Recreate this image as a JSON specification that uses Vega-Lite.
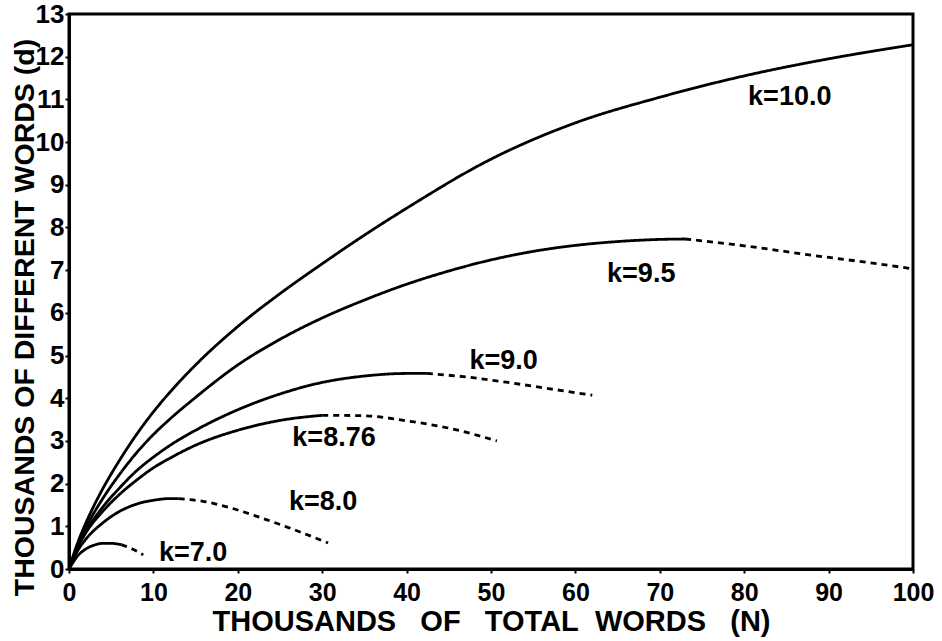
{
  "$schema": "https://vega.github.io/schema/vega-lite/v6.json",
  "width": 844,
  "height": 555,
  "autosize": {"type": "none"},
  "padding": {"left": 69, "top": 14, "right": 29, "bottom": 72},
  "background": "white",
  "config": {
    "view": {"stroke": "black", "strokeWidth": 3},
    "font": "Liberation Sans"
  },
  "datasets": {
    "curves": [
      {"k": "10.0", "seg": "solid", "N": 0, "d": 0},
      {"k": "10.0", "seg": "solid", "N": 1, "d": 0.6},
      {"k": "10.0", "seg": "solid", "N": 2, "d": 1.08},
      {"k": "10.0", "seg": "solid", "N": 3, "d": 1.5},
      {"k": "10.0", "seg": "solid", "N": 4, "d": 1.88},
      {"k": "10.0", "seg": "solid", "N": 6, "d": 2.55},
      {"k": "10.0", "seg": "solid", "N": 8, "d": 3.15},
      {"k": "10.0", "seg": "solid", "N": 10, "d": 3.68},
      {"k": "10.0", "seg": "solid", "N": 12, "d": 4.15},
      {"k": "10.0", "seg": "solid", "N": 15, "d": 4.78},
      {"k": "10.0", "seg": "solid", "N": 20, "d": 5.68},
      {"k": "10.0", "seg": "solid", "N": 25, "d": 6.45},
      {"k": "10.0", "seg": "solid", "N": 30, "d": 7.15},
      {"k": "10.0", "seg": "solid", "N": 35, "d": 7.82},
      {"k": "10.0", "seg": "solid", "N": 40, "d": 8.45},
      {"k": "10.0", "seg": "solid", "N": 50, "d": 9.6},
      {"k": "10.0", "seg": "solid", "N": 60, "d": 10.45},
      {"k": "10.0", "seg": "solid", "N": 70, "d": 11.05},
      {"k": "10.0", "seg": "solid", "N": 80, "d": 11.55},
      {"k": "10.0", "seg": "solid", "N": 90, "d": 11.95},
      {"k": "10.0", "seg": "solid", "N": 100, "d": 12.28},

      {"k": "9.5", "seg": "solid", "N": 0, "d": 0},
      {"k": "9.5", "seg": "solid", "N": 1, "d": 0.55},
      {"k": "9.5", "seg": "solid", "N": 2, "d": 0.97},
      {"k": "9.5", "seg": "solid", "N": 4, "d": 1.65},
      {"k": "9.5", "seg": "solid", "N": 6, "d": 2.22},
      {"k": "9.5", "seg": "solid", "N": 8, "d": 2.72},
      {"k": "9.5", "seg": "solid", "N": 10, "d": 3.15},
      {"k": "9.5", "seg": "solid", "N": 12, "d": 3.52},
      {"k": "9.5", "seg": "solid", "N": 15, "d": 4.02},
      {"k": "9.5", "seg": "solid", "N": 20, "d": 4.78},
      {"k": "9.5", "seg": "solid", "N": 25, "d": 5.38},
      {"k": "9.5", "seg": "solid", "N": 30, "d": 5.88},
      {"k": "9.5", "seg": "solid", "N": 35, "d": 6.3},
      {"k": "9.5", "seg": "solid", "N": 40, "d": 6.67},
      {"k": "9.5", "seg": "solid", "N": 45, "d": 6.98},
      {"k": "9.5", "seg": "solid", "N": 50, "d": 7.24},
      {"k": "9.5", "seg": "solid", "N": 55, "d": 7.44},
      {"k": "9.5", "seg": "solid", "N": 60, "d": 7.58},
      {"k": "9.5", "seg": "solid", "N": 65, "d": 7.67},
      {"k": "9.5", "seg": "solid", "N": 70, "d": 7.72},
      {"k": "9.5", "seg": "solid", "N": 73, "d": 7.73},
      {"k": "9.5", "seg": "dashed", "N": 73, "d": 7.73},
      {"k": "9.5", "seg": "dashed", "N": 80, "d": 7.57},
      {"k": "9.5", "seg": "dashed", "N": 88, "d": 7.35},
      {"k": "9.5", "seg": "dashed", "N": 95, "d": 7.17},
      {"k": "9.5", "seg": "dashed", "N": 100, "d": 7.03},

      {"k": "9.0", "seg": "solid", "N": 0, "d": 0},
      {"k": "9.0", "seg": "solid", "N": 1, "d": 0.5},
      {"k": "9.0", "seg": "solid", "N": 2, "d": 0.88},
      {"k": "9.0", "seg": "solid", "N": 4, "d": 1.45},
      {"k": "9.0", "seg": "solid", "N": 6, "d": 1.9},
      {"k": "9.0", "seg": "solid", "N": 8, "d": 2.3},
      {"k": "9.0", "seg": "solid", "N": 10, "d": 2.62},
      {"k": "9.0", "seg": "solid", "N": 12, "d": 2.9},
      {"k": "9.0", "seg": "solid", "N": 15, "d": 3.25},
      {"k": "9.0", "seg": "solid", "N": 20, "d": 3.73},
      {"k": "9.0", "seg": "solid", "N": 25, "d": 4.1},
      {"k": "9.0", "seg": "solid", "N": 30, "d": 4.37},
      {"k": "9.0", "seg": "solid", "N": 35, "d": 4.52},
      {"k": "9.0", "seg": "solid", "N": 40, "d": 4.58},
      {"k": "9.0", "seg": "solid", "N": 42.4, "d": 4.58},
      {"k": "9.0", "seg": "dashed", "N": 42.4, "d": 4.58},
      {"k": "9.0", "seg": "dashed", "N": 47, "d": 4.5},
      {"k": "9.0", "seg": "dashed", "N": 52, "d": 4.37},
      {"k": "9.0", "seg": "dashed", "N": 57, "d": 4.22},
      {"k": "9.0", "seg": "dashed", "N": 62, "d": 4.07},

      {"k": "8.76", "seg": "solid", "N": 0, "d": 0},
      {"k": "8.76", "seg": "solid", "N": 1, "d": 0.5},
      {"k": "8.76", "seg": "solid", "N": 2, "d": 0.85},
      {"k": "8.76", "seg": "solid", "N": 4, "d": 1.35},
      {"k": "8.76", "seg": "solid", "N": 6, "d": 1.75},
      {"k": "8.76", "seg": "solid", "N": 8, "d": 2.08},
      {"k": "8.76", "seg": "solid", "N": 10, "d": 2.37},
      {"k": "8.76", "seg": "solid", "N": 12, "d": 2.6},
      {"k": "8.76", "seg": "solid", "N": 15, "d": 2.9},
      {"k": "8.76", "seg": "solid", "N": 20, "d": 3.25},
      {"k": "8.76", "seg": "solid", "N": 25, "d": 3.48},
      {"k": "8.76", "seg": "solid", "N": 30, "d": 3.6},
      {"k": "8.76", "seg": "dashed", "N": 30, "d": 3.6},
      {"k": "8.76", "seg": "dashed", "N": 35, "d": 3.59},
      {"k": "8.76", "seg": "dashed", "N": 40, "d": 3.47},
      {"k": "8.76", "seg": "dashed", "N": 45, "d": 3.3},
      {"k": "8.76", "seg": "dashed", "N": 50.7, "d": 3.0},

      {"k": "8.0", "seg": "solid", "N": 0, "d": 0},
      {"k": "8.0", "seg": "solid", "N": 1, "d": 0.42},
      {"k": "8.0", "seg": "solid", "N": 2, "d": 0.7},
      {"k": "8.0", "seg": "solid", "N": 4, "d": 1.08},
      {"k": "8.0", "seg": "solid", "N": 6, "d": 1.35},
      {"k": "8.0", "seg": "solid", "N": 8, "d": 1.52},
      {"k": "8.0", "seg": "solid", "N": 10, "d": 1.61},
      {"k": "8.0", "seg": "solid", "N": 12, "d": 1.65},
      {"k": "8.0", "seg": "solid", "N": 13, "d": 1.65},
      {"k": "8.0", "seg": "dashed", "N": 13, "d": 1.65},
      {"k": "8.0", "seg": "dashed", "N": 16, "d": 1.58},
      {"k": "8.0", "seg": "dashed", "N": 19, "d": 1.44},
      {"k": "8.0", "seg": "dashed", "N": 22, "d": 1.25},
      {"k": "8.0", "seg": "dashed", "N": 26, "d": 0.97},
      {"k": "8.0", "seg": "dashed", "N": 30.7, "d": 0.61},

      {"k": "7.0", "seg": "solid", "N": 0, "d": 0},
      {"k": "7.0", "seg": "solid", "N": 1, "d": 0.3},
      {"k": "7.0", "seg": "solid", "N": 2, "d": 0.47},
      {"k": "7.0", "seg": "solid", "N": 3, "d": 0.56},
      {"k": "7.0", "seg": "solid", "N": 4, "d": 0.6},
      {"k": "7.0", "seg": "solid", "N": 5, "d": 0.6},
      {"k": "7.0", "seg": "solid", "N": 6.2, "d": 0.57},
      {"k": "7.0", "seg": "dashed", "N": 6.2, "d": 0.57},
      {"k": "7.0", "seg": "dashed", "N": 7.5, "d": 0.47},
      {"k": "7.0", "seg": "dashed", "N": 8.8, "d": 0.33}
    ],
    "labels": [
      {"label": "k=10.0", "N": 85.4, "d": 11.05},
      {"label": "k=9.5", "N": 67.8, "d": 6.91},
      {"label": "k=9.0", "N": 51.5, "d": 4.88},
      {"label": "k=8.76", "N": 31.4, "d": 3.07},
      {"label": "k=8.0", "N": 30.1, "d": 1.57},
      {"label": "k=7.0", "N": 14.7, "d": 0.38}
    ]
  },
  "layer": [
    {
      "data": {"name": "curves"},
      "mark": {"type": "line", "color": "black", "strokeWidth": 2.8, "interpolate": "monotone", "clip": true},
      "encoding": {
        "x": {
          "field": "N", "type": "quantitative",
          "scale": {"domain": [0, 100], "nice": false, "zero": false},
          "axis": {
            "values": [0, 10, 20, 30, 40, 50, 60, 70, 80, 90, 100],
            "title": "THOUSANDS\u00a0\u00a0\u00a0OF\u00a0\u00a0\u00a0TOTAL\u00a0\u00a0WORDS\u00a0\u00a0\u00a0(N)",
            "grid": false,
            "domainColor": "black", "domainWidth": 3,
            "tickColor": "black", "tickWidth": 2, "tickSize": 4,
            "labelColor": "black", "labelFont": "Liberation Sans", "labelFontSize": 25, "labelFontWeight": "bold",
            "labelPadding": 7, "labelFlush": false,
            "titleColor": "black", "titleFont": "Liberation Sans", "titleFontSize": 29, "titleFontWeight": "bold",
            "titlePadding": 2
          }
        },
        "y": {
          "field": "d", "type": "quantitative",
          "scale": {"domain": [0, 13], "nice": false, "zero": false},
          "axis": {
            "values": [0, 1, 2, 3, 4, 5, 6, 7, 8, 9, 10, 11, 12, 13],
            "title": "THOUSANDS OF DIFFERENT WORDS (d)",
            "grid": false,
            "domainColor": "black", "domainWidth": 3,
            "tickColor": "black", "tickWidth": 2, "tickSize": 4,
            "labelColor": "black", "labelFont": "Liberation Sans", "labelFontSize": 26, "labelFontWeight": "bold",
            "labelPadding": 1, "labelFlush": false,
            "titleColor": "black", "titleFont": "Liberation Sans", "titleFontSize": 28.5, "titleFontWeight": "bold",
            "titleBaseline": "middle", "titleX": -45, "titleY": 303
          }
        },
        "detail": {"field": "k"},
        "strokeDash": {
          "field": "seg", "type": "nominal",
          "scale": {"domain": ["solid", "dashed"], "range": [[1, 0], [6, 5]]},
          "legend": null
        }
      }
    },
    {
      "data": {"name": "labels"},
      "mark": {"type": "text", "font": "Liberation Sans", "fontSize": 27, "fontWeight": "bold", "color": "black", "align": "center", "baseline": "middle"},
      "encoding": {
        "x": {"field": "N", "type": "quantitative"},
        "y": {"field": "d", "type": "quantitative"},
        "text": {"field": "label"}
      }
    }
  ]
}
